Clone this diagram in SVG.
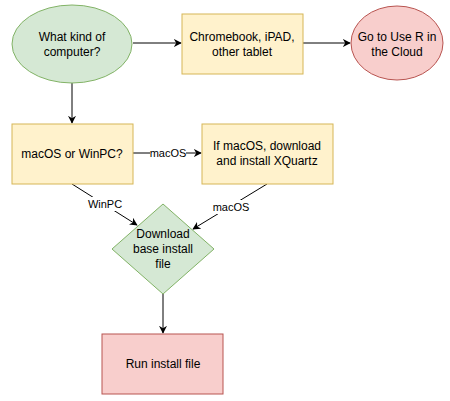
<svg xmlns="http://www.w3.org/2000/svg" width="450" height="401" viewBox="0 0 450 401">
<defs>
<marker id="arr" viewBox="0 0 10 10" refX="9" refY="5" markerWidth="8" markerHeight="8" markerUnits="userSpaceOnUse" orient="auto">
<path d="M0,0 L10,5 L0,10 L3,5 Z" fill="#000"/>
</marker>
<style>
text{font-family:"Liberation Sans",Arial,sans-serif;font-size:12px;fill:#000;text-anchor:middle}
.lbl{font-size:11px}
.g{fill:#d5e8d4;stroke:#82b366;stroke-width:1}
.y{fill:#fff2cc;stroke:#d6b656;stroke-width:1}
.r{fill:#f8cecc;stroke:#b85450;stroke-width:1}
.e{fill:none;stroke:#000;stroke-width:1;marker-end:url(#arr)}
.bg{fill:#fff}
</style>
</defs>
<rect width="450" height="401" fill="#fff"/>
<g id="connectors">
<path class="e" d="M133,43 L181,43"/>
<path class="e" d="M303,43 L350,43"/>
<path class="e" d="M72,83 L72,123"/>
<path class="e" d="M133,153 L201,153"/>
<rect class="bg" x="150" y="146" width="36" height="14"/>
<text class="lbl" x="168" y="157">macOS</text>
<path class="e" d="M72,184 L137,225"/>
<rect class="bg" x="86" y="197" width="38" height="14"/>
<text class="lbl" x="105" y="208">WinPC</text>
<path class="e" d="M267,184 L193,229"/>
<rect class="bg" x="212" y="200" width="38" height="14"/>
<text class="lbl" x="231" y="211">macOS</text>
<path class="e" d="M163,294 L163,333"/>
</g>
<g id="n1">
<ellipse class="g" cx="72" cy="44" rx="60" ry="39"/>
<text x="72" y="41">What kind of</text>
<text x="72" y="56">computer?</text>
</g>
<g id="n2">
<rect class="y" x="182" y="14" width="121" height="60"/>
<text x="242" y="41">Chromebook, iPAD,</text>
<text x="242" y="56">other tablet</text>
</g>
<g id="n3">
<ellipse class="r" cx="397" cy="43" rx="46" ry="37"/>
<text x="397" y="41">Go to Use R in</text>
<text x="397" y="56">the Cloud</text>
</g>
<g id="n4">
<rect class="y" x="12" y="124" width="121" height="60"/>
<text x="72" y="158">macOS or WinPC?</text>
</g>
<g id="n5">
<rect class="y" x="202" y="124" width="131" height="60"/>
<text x="267" y="150">If macOS, download</text>
<text x="267" y="165">and install XQuartz</text>
</g>
<g id="n6">
<path class="g" d="M163,204 L214,249 L163,294 L112,249 Z"/>
<text x="163" y="238">Download</text>
<text x="163" y="253">base install</text>
<text x="163" y="268">file</text>
</g>
<g id="n7">
<rect class="r" x="102" y="334" width="121" height="60"/>
<text x="163" y="368">Run install file</text>
</g>
</svg>
